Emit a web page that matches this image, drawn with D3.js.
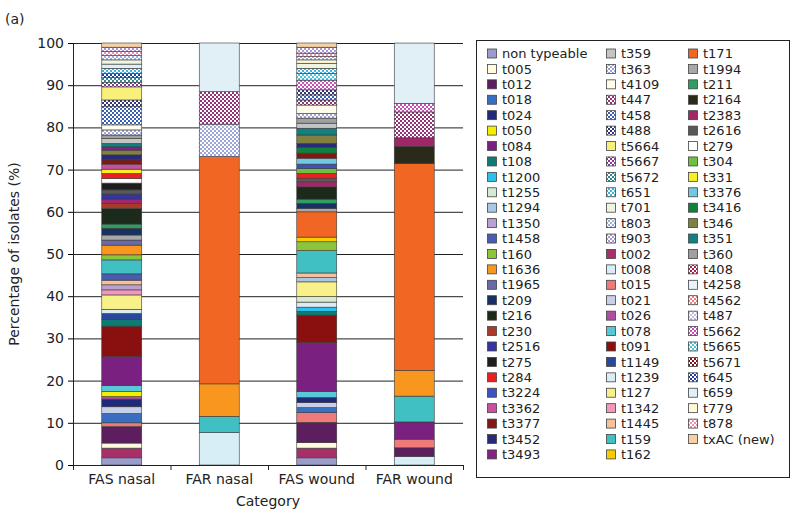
<!DOCTYPE html>
<html><head><meta charset="utf-8">
<script src="https://cdn.jsdelivr.net/npm/d3@7"></script>
<style>body{margin:0;background:#fff} text{font-family:"DejaVu Sans",sans-serif;fill:#222}</style>
</head><body><svg id="c" width="793" height="518"></svg>
<script>
const categories = ["FAS nasal","FAR nasal","FAS wound","FAR wound"];
const yTicks = [0,10,20,30,40,50,60,70,80,90,100];
const legendCol1 = ["non typeable","t005","t012","t018","t024","t050","t084","t108","t1200","t1255","t1294","t1350","t1458","t160","t1636","t1965","t209","t216","t230","t2516","t275","t284","t3224","t3362","t3377","t3452","t3493"];
const legendCol2 = ["t359","t363","t4109","t447","t458","t488","t5664","t5667","t5672","t651","t701","t803","t903","t002","t008","t015","t021","t026","t078","t091","t1149","t1239","t127","t1342","t1445","t159","t162"];
const legendCol3 = ["t171","t1994","t211","t2164","t2383","t2616","t279","t304","t331","t3376","t3416","t346","t351","t360","t408","t4258","t4562","t487","t5662","t5665","t5671","t645","t659","t779","t878","txAC (new)"];

// percentage of isolates per spa type, per category
const fasNasal = {"non typeable":1.7,"t002":2.3,"t005":1.2,"t012":3.9,"t015":0.9,"t018":2.2,"t021":1.6,"t024":1.8,"t026":0.6,"t050":1.2,"t078":1.4,"t084":6.9,"t091":7.2,"t108":1.6,"t1149":1.4,"t1239":1.0,"t127":3.4,"t1342":1.2,"t1350":1.2,"t1445":1.1,"t1458":1.5,"t159":3.3,"t160":1.2,"t1636":2.3,"t1965":1.2,"t1994":1.2,"t209":1.6,"t211":1.0,"t216":3.7,"t230":1.2,"t2383":1.0,"t2516":1.2,"t2616":1.0,"t275":1.6,"t279":1.1,"t284":1.2,"t331":1.0,"t3362":1.2,"t3377":1.0,"t3452":1.2,"t346":1.1,"t3493":0.8,"t351":0.8,"t359":1.2,"t360":0.8,"t363":1.2,"t4109":1.2,"t458":4.3,"t488":1.6,"t5664":3.1,"t5667":1.0,"t5672":1.2,"t645":1.0,"t651":1.2,"t659":1.0,"t701":1.0,"t803":1.0,"t878":1.0,"t903":1.0,"txAC (new)":1.0};
const farNasal = {"t008":7.69,"t159":3.85,"t1636":7.69,"t171":53.85,"t363":7.69,"t447":7.69,"t659":11.54};
const fasWound = {"non typeable":1.7,"t002":2.3,"t005":1.3,"t012":4.8,"t015":2.3,"t018":1.2,"t021":1.2,"t024":1.2,"t078":1.4,"t084":11.6,"t091":6.5,"t108":0.9,"t1200":1.0,"t1239":1.2,"t1255":1.3,"t127":3.5,"t1294":1.0,"t1445":1.1,"t159":5.3,"t160":2.1,"t162":1.1,"t171":6.0,"t1994":0.8,"t209":1.2,"t211":1.0,"t216":2.9,"t2383":1.2,"t2616":0.8,"t284":1.2,"t304":1.2,"t3224":1.0,"t3376":1.4,"t3377":1.2,"t3416":1.4,"t3452":0.9,"t346":2.0,"t351":1.6,"t359":1.2,"t360":1.2,"t363":1.1,"t4109":2.0,"t447":1.2,"t458":1.2,"t488":1.2,"t5662":2.3,"t5665":1.6,"t651":1.2,"t701":1.2,"t779":0.8,"t803":0.8,"t878":0.8,"t903":1.4,"txAC (new)":1.0};
const farWound = {"t008":2.04,"t012":2.04,"t015":2.04,"t084":4.08,"t159":6.12,"t1636":6.12,"t171":48.98,"t2164":4.08,"t2383":2.04,"t447":6.12,"t5662":2.04,"t659":14.29};
const categoryValues = [fasNasal, farNasal, fasWound, farWound];

// styles
const solidColors = {"non typeable":"#9c9ccc","t005":"#fffbdc","t012":"#5c1e5e","t018":"#3a6ec0","t024":"#202a78","t050":"#f4ee00","t084":"#7a2080","t108":"#0e7a72","t1200":"#2ec0ea","t1255":"#d6ead0","t1294":"#a8c8e6","t1350":"#b8a0d2","t1458":"#4a5cb0","t160":"#8cc43a","t1636":"#f8961e","t1965":"#6a6aaa","t209":"#1a3062","t216":"#1c2a1c","t230":"#a83a2a","t2516":"#3434a2","t275":"#1e1e1e","t284":"#ea2020","t3224":"#3a52c2","t3362":"#c8509c","t3377":"#801818","t3452":"#2a2a7a","t3493":"#822282",
 "t359":"#c4c4c4","t4109":"#fffde8","t5664":"#f8f07a","t701":"#eef4e0","t002":"#a8306a","t008":"#d8eef6","t015":"#f07a7a","t021":"#c8d0e8","t026":"#b04ea2","t078":"#58c8d6","t091":"#8a1010","t1149":"#2a4898","t1239":"#dcecf4","t127":"#f8f088","t1342":"#f098b8","t1445":"#f8c09a","t159":"#40c0c2","t162":"#f8cc00",
 "t171":"#f06622","t1994":"#a8a8a8","t211":"#2e9e62","t2164":"#2a2a1a","t2383":"#a02868","t2616":"#585858","t279":"#ffffff","t304":"#70c040","t331":"#f8f020","t3376":"#72c8e0","t3416":"#10803e","t346":"#808040","t351":"#108080","t360":"#a0a0a0","t4258":"#e8f4f8","t659":"#e0f0f6","t779":"#fff8d6","txAC (new)":"#f8d0a6"};
const patternColors = {"t363":"#9ea6d8","t447":"#943276","t458":"#3a62b2","t488":"#34347a","t5667":"#843494","t5672":"#2e8a8a","t651":"#40b2e0","t803":"#9ab2da","t903":"#aa98d2","t408":"#a8204e","t4562":"#e88080","t487":"#c4bce0","t5662":"#c452b4","t5665":"#52c2d8","t5671":"#801414","t645":"#2040a0","t878":"#ea92b4"};

const svg = d3.select("#c");
const defs = svg.append("defs");
const patIds = {};
Object.entries(patternColors).forEach(([k,c],i)=>{
  const p = defs.append("pattern").attr("id","pat"+i).attr("width",4).attr("height",4).attr("patternUnits","userSpaceOnUse");
  p.append("rect").attr("width",4).attr("height",4).attr("fill","#fff");
  p.append("rect").attr("width",2).attr("height",2).attr("fill",c);
  p.append("rect").attr("x",2).attr("y",2).attr("width",2).attr("height",2).attr("fill",c);
  patIds[k] = "pat"+i;
});
const fillOf = k => patIds[k] ? `url(#${patIds[k]})` : (solidColors[k] || "#ccc");

const allTypes = legendCol1.concat(legendCol2, legendCol3);
const stackOrder = allTypes.slice().sort(d3.ascending);

const x = d3.scaleBand().domain(categories).range([73,463]).paddingInner(0.59).paddingOuter(0.295);
const y = d3.scaleLinear().domain([0,100]).range([465,43]);

// gridlines
svg.append("g").selectAll("line").data(yTicks.filter(d=>d>0)).join("line")
  .attr("x1",73).attr("x2",463).attr("y1",d=>y(d)+0.5).attr("y2",d=>y(d)+0.5)
  .attr("stroke","#222").attr("stroke-width",1);

const rows = categories.map((c,i)=>{ const r={cat:c}; stackOrder.forEach(k=>r[k]=categoryValues[i][k]||0); return r; });
const series = d3.stack().keys(stackOrder)(rows);
const gb = svg.append("g");
series.forEach(s=>{
  gb.selectAll(null).data(s.filter(d=>d[1]-d[0]>0)).join("rect")
    .attr("x",d=>x(d.data.cat)).attr("width",x.bandwidth())
    .attr("y",d=>y(d[1])).attr("height",d=>y(d[0])-y(d[1]))
    .attr("fill",fillOf(s.key)).attr("stroke","#3a3a3a").attr("stroke-width",0.6);
});

// y axis
const ya = svg.append("g").attr("transform","translate(73,0)")
  .call(d3.axisLeft(y).tickValues(yTicks).tickSize(5).tickPadding(4));
ya.select(".domain").attr("stroke","#222");
ya.selectAll("text").attr("font-size",14).style("font-family","DejaVu Sans").style("fill","#222");
// x axis
const xa = svg.append("g").attr("transform","translate(0,465)").call(d3.axisBottom(x).tickSize(0).tickPadding(9));
xa.select(".domain").attr("stroke","#222");
xa.selectAll("text").attr("font-size",14).style("font-family","DejaVu Sans").style("fill","#222");
const bounds = [0,1,2,3,4].map(i=> 73 + i*(390/4));
svg.append("g").selectAll("line").data(bounds).join("line")
  .attr("x1",d=>d+0.5).attr("x2",d=>d+0.5).attr("y1",465).attr("y2",470).attr("stroke","#222");

svg.append("text").attr("x",268).attr("y",506).attr("text-anchor","middle").attr("font-size",14).text("Category");
svg.append("text").attr("transform","translate(19,254) rotate(-90)").attr("text-anchor","middle").attr("font-size",14).text("Percentage of isolates (%)");
svg.append("text").attr("x",5).attr("y",24).attr("font-size",14).text("(a)");

// legend
svg.append("rect").attr("x",476.5).attr("y",40.5).attr("width",313).attr("height",437).attr("fill","none").attr("stroke","#222");
const colX = [487,606,688];
[legendCol1,legendCol2,legendCol3].forEach((col,ci)=>{
  const g = svg.append("g");
  col.forEach((k,i)=>{
    const yy = 53.5 + i*15.42;
    g.append("rect").attr("x",colX[ci]+0.5).attr("y",yy-4.5).attr("width",9).attr("height",9)
      .attr("fill",fillOf(k)).attr("stroke","#444").attr("stroke-width",0.8);
    g.append("text").attr("x",colX[ci]+15).attr("y",yy).attr("dy","0.36em").attr("font-size",13).text(k);
  });
});
</script></body></html>
